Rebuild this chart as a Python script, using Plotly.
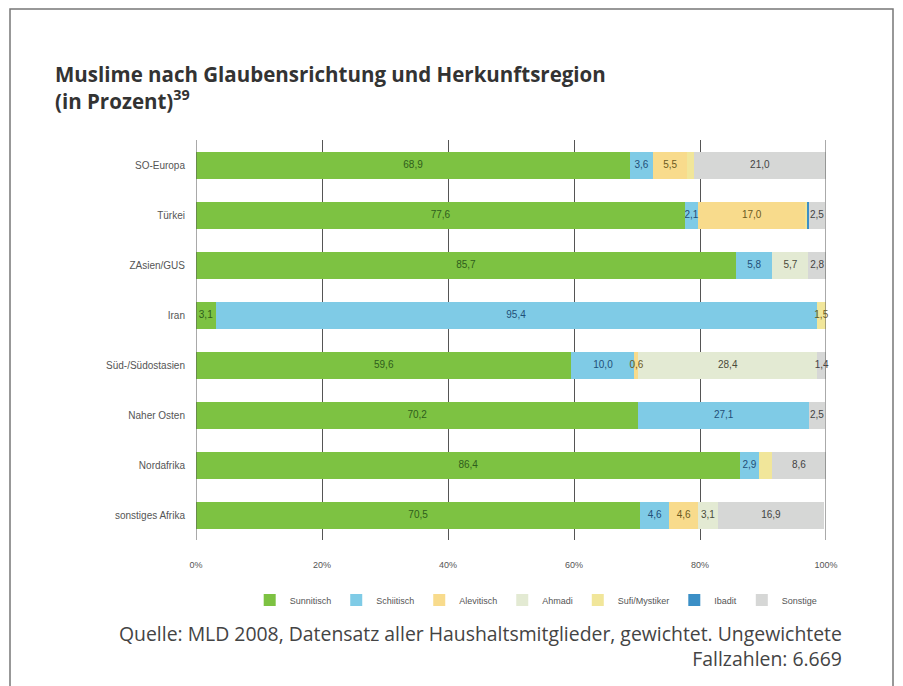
import plotly.graph_objects as go

regions = ["SO-Europa", "Türkei", "ZAsien/GUS", "Iran", "Süd-/Südostasien",
           "Naher Osten", "Nordafrika", "sonstiges Afrika"]
series_names = ["Sunnitisch", "Schiitisch", "Alevitisch", "Ahmadi",
                "Sufi/Mystiker", "Ibadit", "Sonstige"]

sunnitisch = [68.9, 77.6, 85.7, 3.1, 59.6, 70.2, 86.4, 70.5]
schiitisch = [3.6, 2.1, 5.8, 95.4, 10.0, 27.1, 2.9, 4.6]
alevitisch = [5.5, 17.0, 0.0, 0.0, 0.6, 0.0, 0.0, 4.6]
ahmadi = [0.0, 0.0, 5.7, 0.0, 28.4, 0.0, 0.0, 3.1]
sufi = [1.0, 0.3, 0.0, 1.5, 0.0, 0.0, 2.1, 0.0]
ibadit = [0.0, 0.3, 0.0, 0.0, 0.0, 0.0, 0.0, 0.0]
sonstige = [21.0, 2.5, 2.8, 0.0, 1.4, 2.5, 8.6, 16.9]

tick_vals = [0, 20, 40, 60, 80, 100]
tick_text = ["0%", "20%", "40%", "60%", "80%", "100%"]

# segments whose value label is not printed in the original
hidden_labels = {("Sufi/Mystiker", "SO-Europa"), ("Sufi/Mystiker", "Nordafrika")}

series = [sunnitisch, schiitisch, alevitisch, ahmadi, sufi, ibadit, sonstige]
colors = ["#7dc242", "#7fcbe6", "#f8db8c", "#e3ead3", "#f1e69a", "#3b8fc6", "#d6d7d6"]
text_colors = ["#2f5d1c", "#1f4f78", "#6b5a1e", "#4a4a3a", "#6b5a1e", "#1f3f60", "#444444"]

# page body has an 8px margin: figure coordinates = window coordinates - 8
L, T, B, R = 188, 132, 532, 818
H = B - T
W = R - L

fig = go.Figure()
for name, vals, col in zip(series_names, series, colors):
    fig.add_trace(go.Bar(
        y=regions, x=vals, name=name, orientation="h",
        marker=dict(color=col, line=dict(width=0)),
        hoverinfo="x+name",
    ))

# value labels drawn on top of all bars (centre of each stacked segment)
cum = [0.0] * len(regions)
for name, vals, tcol in zip(series_names, series, text_colors):
    mids, labels = [], []
    for i, (v, r) in enumerate(zip(vals, regions)):
        mids.append(cum[i] + v / 2)
        labels.append(f"{v:.1f}".replace(".", ",") if v >= 0.5 and (name, r) not in hidden_labels else "")
        cum[i] += v
    fig.add_trace(go.Scatter(
        y=regions, x=mids, text=labels, mode="text", showlegend=False,
        textposition="middle center", cliponaxis=False, hoverinfo="skip",
        textfont=dict(size=10, color=tcol, family="Liberation Sans, Arial, sans-serif"),
    ))

fig.update_layout(
    barmode="stack",
    bargap=0.46,
    width=903, height=686,
    margin=dict(l=L, r=903 - R, t=T, b=686 - B, autoexpand=False),
    paper_bgcolor="white",
    plot_bgcolor="white",
    font=dict(family="Liberation Sans, Arial, sans-serif", color="#555555"),
    title=dict(
        text="<b>Muslime nach Glaubensrichtung und Herkunftsregion<br>(in Prozent)<sup>39</sup></b>",
        x=47 / 903, xanchor="left", y=1 - 74 / 686, yanchor="top",
        font=dict(family="Open Sans, sans-serif", size=20.5, color="#333333"),
        automargin=False,
    ),
    xaxis=dict(
        range=[0, 100], tickvals=tick_vals, ticktext=tick_text,
        showgrid=True, gridcolor="#555555", gridwidth=1,
        zeroline=False, showline=False, automargin=False,
        tickfont=dict(size=9, color="#555555"), ticks="",
        ticklabelstandoff=18,
    ),
    yaxis=dict(
        autorange="reversed", showgrid=False, showline=False, ticks="",
        automargin=False,
        tickfont=dict(size=10, color="#555555"), ticklabelstandoff=10,
    ),
    legend=dict(
        orientation="h", x=0.54, xanchor="center", y=-0.15, yanchor="middle",
        font=dict(size=9, color="#555555"),
        itemwidth=30, itemsizing="constant", traceorder="normal",
    ),
    showlegend=True,
)

fig.add_annotation(
    text="Quelle: MLD 2008, Datensatz aller Haushaltsmitglieder, gewichtet. Ungewichtete<br>Fallzahlen: 6.669",
    xref="paper", yref="paper", x=(836 - L) / W, y=(B - 610) / H,
    xanchor="right", yanchor="top", align="right", showarrow=False,
    font=dict(family="Open Sans, sans-serif", size=19.4, color="#444444"),
)

fig.add_shape(type="line", xref="x", yref="paper", x0=100, x1=100, y0=0, y1=1,
              line=dict(color="#555555", width=1))
fig.add_shape(type="line", xref="x", yref="paper", x0=0, x1=0, y0=0, y1=1,
              line=dict(color="#555555", width=1))
fig.add_shape(type="rect", xref="paper", yref="paper",
              x0=(2 - L) / W, x1=(885 - L) / W,
              y0=(B - 720) / H, y1=(B - 1) / H,
              line=dict(color="#777777", width=1.5))

fig.write_html("out.html")
